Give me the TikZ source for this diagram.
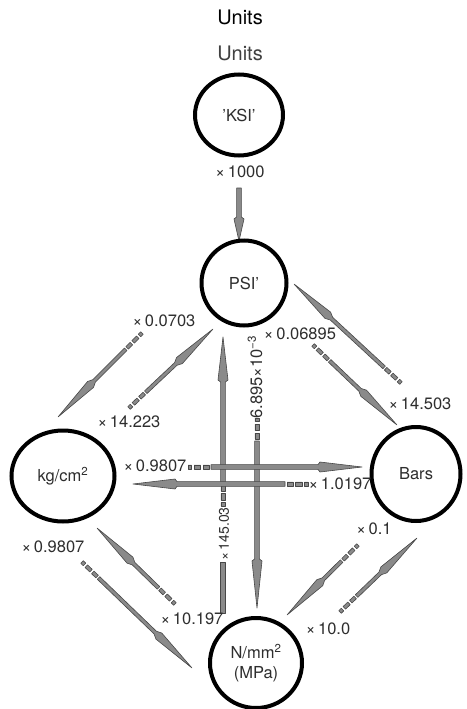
\documentclass[tikz,border=0pt]{standalone}
\usepackage{fontspec}
\setmainfont{TeX Gyre Heros}
\usetikzlibrary{shapes.geometric,calc}

\definecolor{inkgrey}{HTML}{2E2E2E}
\definecolor{arrowgrey}{HTML}{8A8A8A}
\definecolor{arrowline}{HTML}{474747}

\tikzset{
  unit/.style={draw=black, line width=4pt, ellipse, inner sep=0pt,
    text=inkgrey, font=\fontsize{16.5}{19.5}\selectfont, align=center},
  factor/.style={text=inkgrey, font=\fontsize{16.5}{19.5}\selectfont, inner sep=0pt},
  smallfactor/.style={factor, font=\fontsize{14}{17}\selectfont},
  arrowbody/.style={fill=arrowgrey, draw=arrowline, line width=0.6pt, line join=round},
}

% half widths of the arrow parts (changed between groups of arrows)
\def\shafthw{1.8pt}\def\headhw{4.2pt}\def\dashhw{1.8pt}

% \convarrow{tail}{tip}{head length}{back taper}{dashed lead-in 1/0}
\newcommand\convarrow[5]{%
  \pgfpointdiff{\pgfpointanchor{#1}{center}}{\pgfpointanchor{#2}{center}}%
  \pgfgetlastxy{\cvdx}{\cvdy}%
  \pgfmathsetmacro\cvlen{veclen(\cvdx,\cvdy)}%
  \pgfmathsetmacro\cvang{atan2(\cvdy,\cvdx)}%
  \pgfmathsetmacro\cvbase{\cvlen-#3}%
  \pgfmathsetmacro\cvback{\cvbase-#4}%
  \ifnum#5=1 \def\cvstart{23}\else\def\cvstart{0}\fi
  \begin{scope}[shift={(#1)}, rotate=\cvang]
    \ifnum#5=1
      \path[arrowbody] (0pt,-\dashhw) rectangle (3.5pt,\dashhw)
                       (6pt,-\dashhw) rectangle (12.5pt,\dashhw)
                       (15pt,-\dashhw) rectangle (21pt,\dashhw);
    \fi
    \path[arrowbody] (\cvstart pt,-\shafthw) -- (\cvback pt,-\shafthw)
      -- (\cvbase pt,-\headhw) -- (\cvlen pt,0pt) -- (\cvbase pt,\headhw)
      -- (\cvback pt,\shafthw) -- (\cvstart pt,\shafthw) -- cycle;
  \end{scope}}

\begin{document}
\begin{tikzpicture}[x=1pt,y=-1pt]
\fill[white] (0,0) rectangle (466,709);
\useasboundingbox (0,0) rectangle (466,709);

% ---- arrow end points (tail = dashed end, tip = arrow point)
\coordinate (k1t) at (239,188);  \coordinate (k1h) at (239,241);
\coordinate (a2t) at (142,333);  \coordinate (a2h) at (58,417);
\coordinate (a3t) at (129,408);  \coordinate (a3h) at (213,329);
\coordinate (a4t) at (313,345);  \coordinate (a4h) at (397,425);
\coordinate (a5t) at (401,383);  \coordinate (a5h) at (294,284);
\coordinate (a6t) at (188,467);  \coordinate (a6h) at (362,467);
\coordinate (a7t) at (308,484);  \coordinate (a7h) at (133,484);
\coordinate (a8t) at (223,506);  \coordinate (a8h) at (223,337);
\coordinate (b8t) at (223,613);  \coordinate (b8h) at (223,562);
\coordinate (a9t) at (257,418);  \coordinate (a9h) at (257,608);
\coordinate (a10t) at (82,562);  \coordinate (a10h) at (192,668);
\coordinate (a11t) at (175,604); \coordinate (a11h) at (97,528);
\coordinate (a12t) at (358,545); \coordinate (a12h) at (287,615);
\coordinate (a13t) at (340,612); \coordinate (a13h) at (417,538);

% ---- diagonal conversions
\convarrow{a2t}{a2h}{46}{5}{1}
\convarrow{a3t}{a3h}{46}{5}{1}
\convarrow{a4t}{a4h}{46}{5}{1}
\convarrow{a5t}{a5h}{46}{5}{1}
\convarrow{a10t}{a10h}{46}{5}{1}
\convarrow{a11t}{a11h}{46}{5}{1}
\convarrow{a12t}{a12h}{46}{5}{1}
\convarrow{a13t}{a13h}{46}{5}{1}

% ---- straight conversions
\def\shafthw{2.4pt}\def\headhw{5pt}\def\dashhw{2.2pt}
\convarrow{a8t}{a8h}{43}{2}{1}
\convarrow{a9t}{a9h}{47}{2}{1}
\convarrow{a6t}{a6h}{42}{2}{1}
\convarrow{a7t}{a7h}{42}{2}{1}
\path[arrowbody] ($(b8t)+(-2.4,0)$) rectangle ($(b8h)+(2.4,0)$);
\convarrow{k1t}{k1h}{22}{2}{0}

% ---- titles
\node[font=\fontsize{20}{24}\selectfont] (title) at (240,17) {Units};
\node[font=\fontsize{20}{24}\selectfont, text=black!75] (subtitle) at (240,53) {Units};

% ---- units
\node[unit, minimum width=88pt, minimum height=81pt] (ksi) at (239,115) {'KSI'};
\node[unit, minimum width=85pt, minimum height=85pt] (psi) at (244,283) {PSI'};
\node[unit, minimum width=103pt, minimum height=91pt] (kg) at (63,476) {kg/cm\textsuperscript{2}};
\node[unit, minimum width=89pt, minimum height=94pt] (bars) at (416,474) {Bars};
\node[unit, minimum width=92pt, minimum height=90pt] (mpa) at (256,663) {N/mm\textsuperscript{2}\\(MPa)};

% ---- factors
\node[factor] (f1000) at (240,172) {×\,1000};
\node[factor] (f0703) at (164,321) {×\,0.0703};
\node[factor] (f14223) at (129,422) {×\,14.223};
\node[factor] (f06895) at (300,334) {×\,0.06895};
\node[factor] (f14503) at (420,404) {×\,14.503};
\node[factor] (f9807a) at (155,466) {×\,0.9807};
\node[factor] (f10197) at (340,484) {×\,1.0197};
\node[smallfactor, rotate=90] (f14503b) at (224,534) {×\,145.03};
\node[factor, rotate=90] (f6895) at (255,377) {6.895×10\textsuperscript{−3}};
\node[factor] (f9807b) at (53,547) {×\,0.9807};
\node[factor] (f10197b) at (192,619) {×\,10.197};
\node[factor] (f01) at (374,529) {×\,0.1};
\node[factor] (f100) at (328,629) {×\,10.0};
\end{tikzpicture}
\end{document}
